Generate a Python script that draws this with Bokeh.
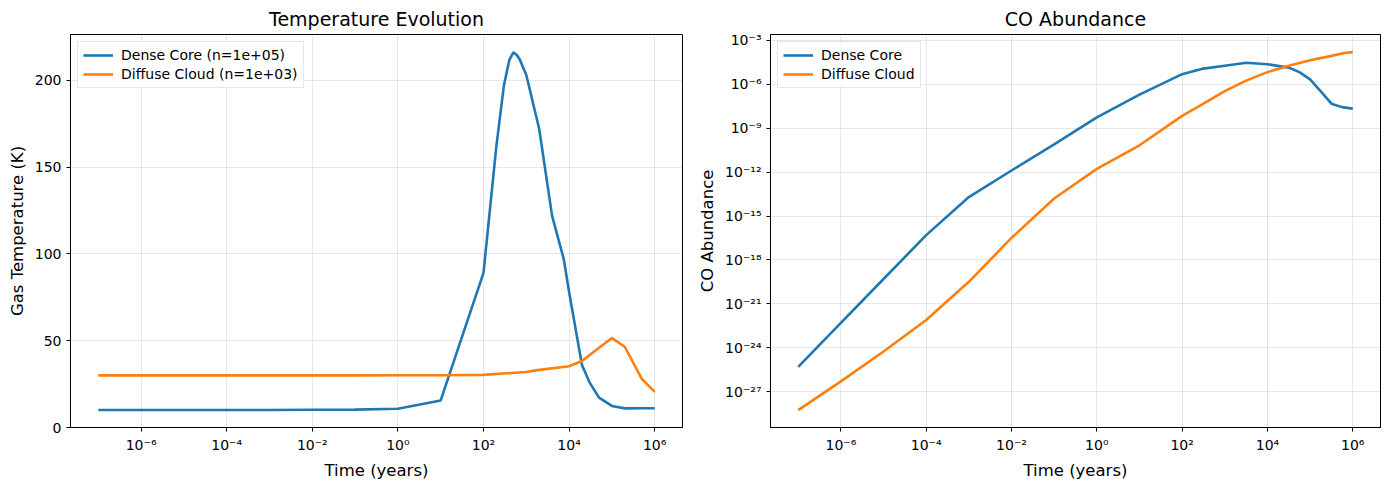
from bokeh.plotting import figure
from bokeh.layouts import row
from bokeh.models import Range1d, FixedTicker, CustomJSTickFormatter, Legend, LegendItem
from bokeh.embed import file_html
from bokeh.resources import INLINE

# ---------------- data ----------------
# Temperature evolution
t_core_T = [1e-7, 1e-6, 1e-5, 1e-4, 1e-3, 1e-2, 1e-1, 1e0, 1e1, 1e2, 2e2, 3e2, 4e2, 5e2,
            6e2, 7e2, 1e3, 2e3, 4e3, 7.5e3, 1e4, 2e4, 3e4, 5e4, 1e5, 2e5, 5e5, 1e6]
T_core = [10.1, 10.1, 10.1, 10.1, 10.1, 10.2, 10.3, 10.8, 15.6, 89.0, 162.0, 197.0, 211.5, 216.0,
          214.5, 212.0, 203.0, 172.0, 122.0, 97.0, 78.0, 36.0, 26.0, 17.2, 12.4, 11.0, 11.1, 11.1]

t_diff_T = [1e-7, 1e-6, 1e-5, 1e-4, 1e-3, 1e-2, 1e-1, 1e0, 1e1, 1e2, 1e3, 2e3, 1e4,
            2e4, 4e4, 1e5, 2e5, 5e5, 1e6]
T_diff = [30.0, 30.0, 30.0, 30.0, 30.0, 30.0, 30.0, 30.1, 30.1, 30.3, 32.0, 33.2, 35.3,
          38.3, 44.0, 51.5, 46.5, 28.0, 20.5]

# CO abundance
t_core_CO = [1e-7, 1e-6, 1e-5, 1e-4, 1e-3, 1e-2, 1e-1, 1e0, 1e1, 1e2, 3.16e2, 1e3, 3.16e3,
             1e4, 3.16e4, 5.6e4, 1e5, 1.8e5, 3.16e5, 5.6e5, 1e6]
CO_core = [5.0e-26, 5.0e-23, 5.0e-20, 5.0e-17, 2.0e-14, 1.3e-12, 8.0e-11, 5.6e-9, 2.0e-7,
           5.0e-6, 1.2e-5, 1.9e-5, 3.0e-5, 2.4e-5, 1.4e-5, 6.9e-6, 2.2e-6, 3.2e-7, 4.8e-8,
           2.8e-8, 2.2e-8]

t_diff_CO = [1e-7, 1e-6, 1e-5, 1e-4, 1e-3, 1e-2, 1e-1, 1e0, 1e1, 1e2, 3.16e2, 1e3, 3.16e3,
             1e4, 3.16e4, 1e5, 3.16e5, 6.3e5, 1e6]
CO_diff = [5.4e-29, 5.0e-27, 5.6e-25, 7.9e-23, 3.2e-20, 3.2e-17, 1.6e-14, 1.7e-12, 6.9e-11,
           7.1e-9, 4.8e-8, 3.5e-7, 1.8e-6, 6.9e-6, 1.9e-5, 4.4e-5, 8.9e-5, 1.4e-4, 1.6e-4]

x_ticks = [1e-6, 1e-4, 1e-2, 1e0, 1e2, 1e4, 1e6]
T_ticks = [0, 50, 100, 150, 200]
CO_ticks = [1e-27, 1e-24, 1e-21, 1e-18, 1e-15, 1e-12, 1e-9, 1e-6, 1e-3]

BLUE = "#1f77b4"
ORANGE = "#ff7f0e"
FONT = "DejaVu Sans"

sup_js = """
const e = Math.round(Math.log10(tick));
const sup = {'-':'\u207b','0':'\u2070','1':'\u00b9','2':'\u00b2','3':'\u00b3','4':'\u2074','5':'\u2075','6':'\u2076','7':'\u2077','8':'\u2078','9':'\u2079'};
return '10' + String(e).split('').map(c => sup[c]).join('');
"""


def style(p, xlabel, ylabel):
    p.title.text_font = FONT
    p.title.text_font_size = "19px"
    p.title.text_font_style = "normal"
    p.title.text_color = "black"
    p.title.align = "center"
    p.outline_line_color = "black"
    p.outline_line_width = 1
    p.outline_line_alpha = 1
    for ax in (p.xaxis[0], p.yaxis[0]):
        ax.axis_line_color = "black"
        ax.major_tick_line_color = "black"
        ax.major_tick_out = 4
        ax.major_tick_in = 0
        ax.minor_tick_out = 0
        ax.minor_tick_in = 0
        ax.major_label_text_font = FONT
        ax.major_label_text_font_size = "14px"
        ax.major_label_text_color = "black"
        ax.axis_label_text_font = FONT
        ax.axis_label_text_font_size = "16.5px"
        ax.axis_label_text_font_style = "normal"
        ax.axis_label_text_color = "black"
    p.xaxis[0].axis_label = xlabel
    p.yaxis[0].axis_label = ylabel
    for g in (p.xgrid[0], p.ygrid[0]):
        g.grid_line_color = "#b0b0b0"
        g.grid_line_alpha = 0.3
        g.grid_line_width = 1


def add_legend(p, items):
    leg = Legend(items=items, location="top_left")
    leg.label_text_font = FONT
    leg.label_text_font_size = "14px"
    leg.label_text_color = "black"
    leg.border_line_color = "#cccccc"
    leg.border_line_width = 1
    leg.background_fill_alpha = 0.8
    leg.margin = 7
    leg.padding = 5
    leg.spacing = 3
    leg.label_height = 16
    leg.glyph_height = 16
    leg.glyph_width = 30
    leg.label_standoff = 8
    p.add_layout(leg, "center")


# ---------------- left: temperature ----------------
p1 = figure(width=695, height=489, x_axis_type="log",
            x_range=Range1d(10 ** -7.65, 10 ** 6.65), y_range=Range1d(0, 226.3),
            output_backend="svg", toolbar_location=None,
            min_border_left=70, min_border_right=13, min_border_top=32, min_border_bottom=62,
            title="Temperature Evolution")
r1 = p1.line(t_core_T, T_core, line_color=BLUE, line_width=2.6)
r2 = p1.line(t_diff_T, T_diff, line_color=ORANGE, line_width=2.6)
style(p1, "Time (years)", "Gas Temperature (K)")
p1.xaxis[0].ticker = FixedTicker(ticks=x_ticks, minor_ticks=[])
p1.xaxis[0].formatter = CustomJSTickFormatter(code=sup_js)
p1.yaxis[0].ticker = FixedTicker(ticks=T_ticks, minor_ticks=[])
add_legend(p1, [LegendItem(label="Dense Core (n=1e+05)", renderers=[r1]),
                LegendItem(label="Diffuse Cloud (n=1e+03)", renderers=[r2])])

# ---------------- right: CO abundance ----------------
p2 = figure(width=694, height=489, x_axis_type="log", y_axis_type="log",
            x_range=Range1d(10 ** -7.65, 10 ** 6.65), y_range=Range1d(10 ** -29.45, 10 ** -2.59),
            output_backend="svg", toolbar_location=None,
            min_border_left=74, min_border_right=9, min_border_top=32, min_border_bottom=62,
            title="CO Abundance")
r3 = p2.line(t_core_CO, CO_core, line_color=BLUE, line_width=2.6)
r4 = p2.line(t_diff_CO, CO_diff, line_color=ORANGE, line_width=2.6)
style(p2, "Time (years)", "CO Abundance")
p2.xaxis[0].ticker = FixedTicker(ticks=x_ticks, minor_ticks=[])
p2.xaxis[0].formatter = CustomJSTickFormatter(code=sup_js)
p2.yaxis[0].ticker = FixedTicker(ticks=CO_ticks, minor_ticks=[])
p2.yaxis[0].formatter = CustomJSTickFormatter(code=sup_js)
add_legend(p2, [LegendItem(label="Dense Core", renderers=[r3]),
                LegendItem(label="Diffuse Cloud", renderers=[r4])])

layout = row(p1, p2)
open("out.html", "w").write(file_html(layout, INLINE))
